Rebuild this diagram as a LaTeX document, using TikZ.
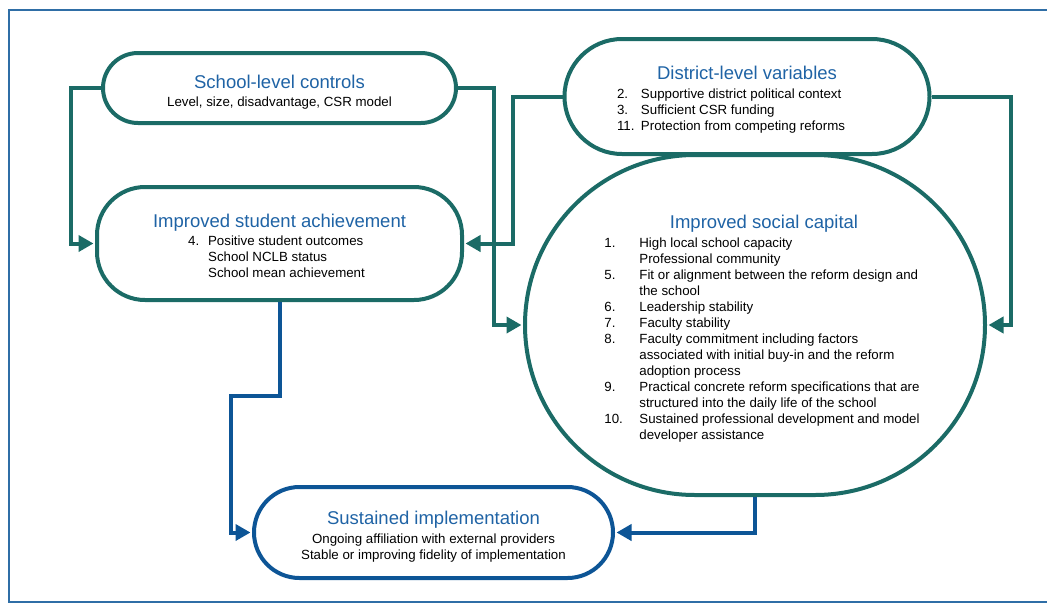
\documentclass[tikz,border=0pt]{standalone}
\usepackage{fontspec}
\setmainfont{Liberation Sans}
\usepackage{xcolor}
\usetikzlibrary{arrows.meta, shapes.misc, positioning}

\definecolor{boxteal}{HTML}{1B6B66}
\definecolor{boxblue}{HTML}{0D5596}
\definecolor{titleblue}{HTML}{1F63A5}
\definecolor{frameblue}{HTML}{2F6EA6}

% title line of a box, with a little extra room above it
\newcommand{\boxtitle}[1]{{\rule{0pt}{22pt}\color{titleblue}\fontsize{18.5}{20}\selectfont #1}}

\begin{document}
\begin{tikzpicture}[
            x=1pt, y=-1pt,
            capsule/.style={rounded rectangle, draw=boxteal, line width=4pt, inner sep=0pt,
                align=center, font=\fontsize{13.3}{16}\selectfont},
            oval/.style={rectangle, rounded corners=48pt, draw=boxteal, line width=4pt,
                inner sep=0pt, align=center, font=\fontsize{13.3}{16}\selectfont},
            link/.style={draw=boxteal, line width=4pt, -{Triangle[length=15pt, width=16pt]}, shorten >=1.5pt},
            linkb/.style={link, draw=boxblue}
        ]

        \useasboundingbox (0,0) rectangle (1047,603);
        \draw[frameblue, line width=1.2pt] (9,10) rectangle (1070,602);

        % Nodes (manual layout)
        \node[capsule, minimum width=353pt, minimum height=70pt] (school) at (279.5, 88) {%
            \boxtitle{School-level controls}\\[2pt]
            Level, size, disadvantage, CSR model};

        \node[capsule, minimum width=365pt, minimum height=115pt] (district) at (747, 96.5) {%
            \boxtitle{District-level variables}\\[3pt]
            \hspace*{-32pt}\begin{tabular}[t]{@{}p{24pt}@{}l@{}}
                2. & Supportive district political context\\
                3. & Sufficient CSR funding\\
                11. & Protection from competing reforms
            \end{tabular}};

        \node[oval, minimum width=365pt, minimum height=113pt] (achieve) at (279.5, 243.5) {%
            \boxtitle{Improved student achievement}\\[2pt]
            \hspace*{-6pt}\begin{tabular}[t]{@{}p{20pt}@{}l@{}}
                4. & Positive student outcomes\\
                   & School NCLB status\\
                   & School mean achievement
            \end{tabular}};

        \node[capsule, minimum width=460pt, minimum height=340pt] (capital) at (755, 325) {%
            \hspace*{18pt}\boxtitle{Improved social capital}\\[3pt]
            \hspace*{14pt}\begin{tabular}[t]{@{}p{35pt}@{}l@{}}
                1. & High local school capacity\\
                   & Professional community\\
                5. & Fit or alignment between the reform design and\\
                   & the school\\
                6. & Leadership stability\\
                7. & Faculty stability\\
                8. & Faculty commitment including factors\\
                   & associated with initial buy-in and the reform\\
                   & adoption process\\
                9. & Practical concrete reform specifications that are\\
                   & structured into the daily life of the school\\
                10. & Sustained professional development and model\\
                    & developer assistance
            \end{tabular}};

        \node[capsule, draw=boxblue, minimum width=359pt, minimum height=91pt] (sustain) at (433.5, 532.5) {%
            \boxtitle{Sustained implementation}\\[3pt]
            Ongoing affiliation with external providers\\
            Stable or improving fidelity of implementation};

        % Edges
        \draw[link] (school.west) -- ++(-30,0) |- (achieve.west);
        \draw[link] (school.east) -- ++(36,0) |- (capital.west);
        \draw[link] (district.west) -- ++(-50,0) |- (achieve.east);
        \draw[link] (district.east) -- ++(79,0) |- (capital.east);

        \draw[linkb] (achieve.south) -- ++(0,94) -- ++(-49,0) |- (sustain.west);
        \draw[linkb] (capital.south) |- (sustain.east);

    \end{tikzpicture}
\end{document}
